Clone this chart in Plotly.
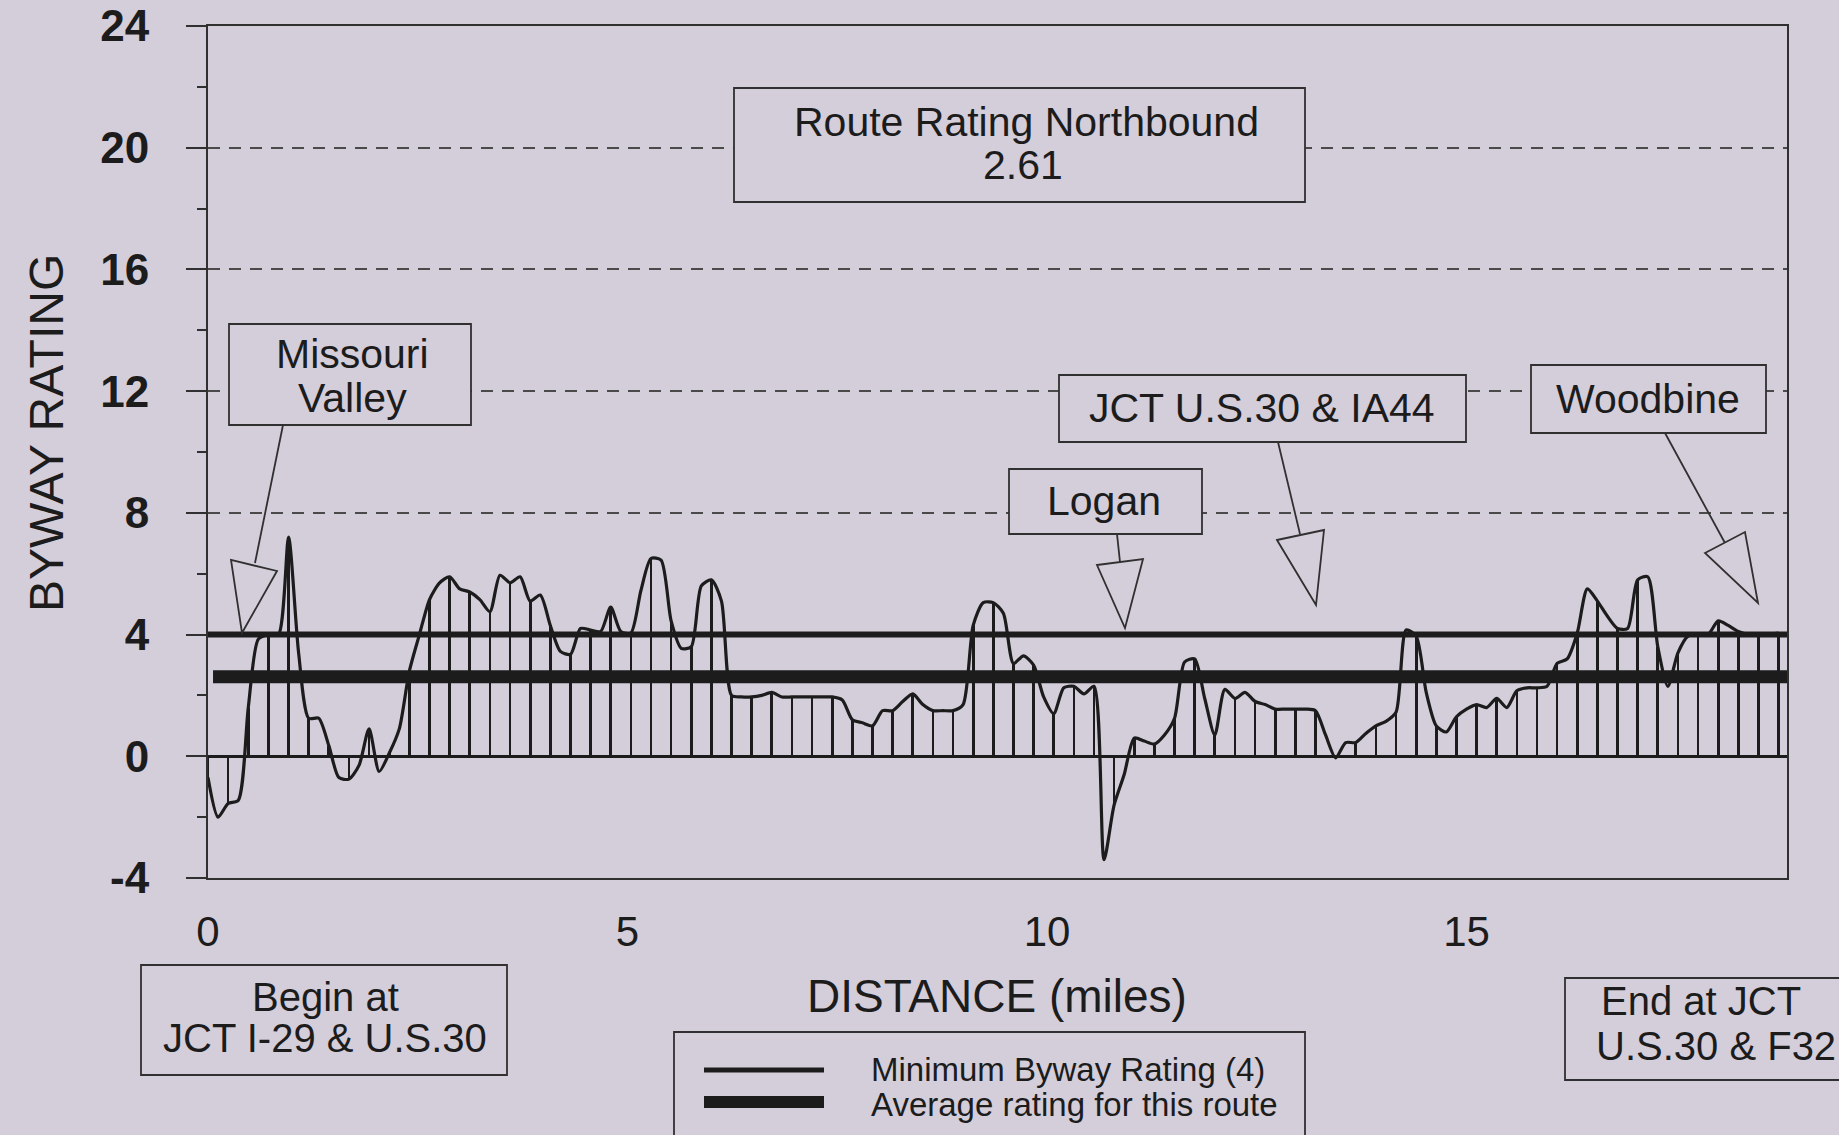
import plotly.graph_objects as go

# ---------------------------------------------------------------------------
# Byway rating along the northbound route, sampled every 0.12 mile
# ---------------------------------------------------------------------------
STEP_MI = 0.12
rating = [
    -0.7, -2.0, -1.55, -1.45, 1.6, 3.85, 4.0, 4.0, 7.2, 3.4,
    1.25, 1.25, 0.35, -0.7, -0.75, -0.3, 0.9, -0.5, 0.1, 0.9,
    2.8, 4.0, 5.15, 5.7, 5.9, 5.5, 5.4, 5.15, 4.75, 5.95,
    5.7, 5.9, 5.1, 5.3, 4.3, 3.45, 3.35, 4.2, 4.15, 4.1,
    4.9, 4.1, 4.05, 5.45, 6.5, 6.45, 4.45, 3.55, 3.6, 5.6,
    5.8, 5.1, 2.0, 1.95, 1.95, 2.0, 2.1, 1.95, 1.95, 1.95,
    1.95, 1.95, 1.95, 1.85, 1.2, 1.1, 1.0, 1.5, 1.5, 1.8,
    2.05, 1.7, 1.5, 1.5, 1.5, 1.7, 4.3, 5.05, 5.05, 4.7,
    3.05, 3.3, 3.0, 1.95, 1.4, 2.25, 2.3, 2.05, 2.3, -3.4,
    -1.6, -0.6, 0.6, 0.5, 0.4, 0.7, 1.25, 3.1, 3.2, 1.9,
    0.7, 2.2, 1.9, 2.1, 1.8, 1.7, 1.55, 1.55, 1.55, 1.55,
    1.5, 0.7, -0.05, 0.45, 0.45, 0.75, 1.0, 1.15, 1.45, 4.15,
    3.95, 2.1, 1.0, 0.8, 1.3, 1.55, 1.7, 1.6, 1.9, 1.6,
    2.15, 2.25, 2.25, 2.3, 3.05, 3.2, 4.05, 5.5, 5.1, 4.6,
    4.2, 4.2, 5.8, 5.9, 3.6, 2.3, 3.4, 3.95, 4.0, 4.0,
    4.45, 4.3, 4.1, 4.0, 4.0, 4.0, 4.05,
]
distance_mi = [round(i * STEP_MI, 2) for i in range(len(rating))]

# Vertical drop lines are drawn at every other sample (0.24 mile stations)
station_mi = distance_mi[::2]
station_rating = rating[::2]

MIN_BYWAY_RATING = 4
ROUTE_AVERAGE = 2.61

y_ticks = [-4, 0, 4, 8, 12, 16, 20, 24]
y_tick_text = [str(v) for v in y_ticks]
x_ticks = [0, 5, 10, 15]

# ---------------------------------------------------------------------------
# Page geometry
# ---------------------------------------------------------------------------
W, H = 1839, 1135
PLOT_L, PLOT_R, PLOT_T, PLOT_B = 208, 1787, 26, 878
X_MAX = 18.82

BG = "rgb(212,206,218)"
INK = "#1c1c1c"
FRAME = "#303030"
FONT = "Liberation Sans"


def paper(px, py):
    """Convert a page pixel position to paper coordinates of the plot area."""
    return ((px - PLOT_L) / (PLOT_R - PLOT_L), (PLOT_B - py) / (PLOT_B - PLOT_T))


fig = go.Figure()

# drop lines from zero to the rating at each station
fig.add_trace(go.Bar(
    x=station_mi, y=station_rating, width=0.032,
    marker=dict(color=INK, line=dict(width=0)),
    showlegend=False, hoverinfo="skip",
))

# rating profile
fig.add_trace(go.Scatter(
    x=distance_mi, y=rating, mode="lines",
    line=dict(color=INK, width=3.2, shape="spline", smoothing=0.7),
    showlegend=False,
))

# minimum byway rating and route average
fig.add_trace(go.Scatter(
    x=[0, X_MAX], y=[MIN_BYWAY_RATING] * 2, mode="lines",
    line=dict(color=INK, width=6), name=f"Minimum Byway Rating ({MIN_BYWAY_RATING})",
    showlegend=False,
))
fig.add_trace(go.Scatter(
    x=[0.06, X_MAX], y=[ROUTE_AVERAGE] * 2, mode="lines",
    line=dict(color=INK, width=13), name="Average rating for this route",
    showlegend=False,
))

shapes = []
annotations = []


def box(x0, y0, x1, y1):
    a = paper(x0, y1)
    b = paper(x1, y0)
    shapes.append(dict(
        type="rect", xref="paper", yref="paper",
        x0=a[0], y0=a[1], x1=b[0], y1=b[1],
        fillcolor=BG, line=dict(color=FRAME, width=1.8), layer="above",
    ))


def text(px, py, s, size=41, xanchor="center"):
    x, y = paper(px, py)
    annotations.append(dict(
        x=x, y=y, xref="paper", yref="paper", text=s, showarrow=False,
        xanchor=xanchor, yanchor="middle",
        font=dict(family=FONT, size=size, color=INK),
    ))


def pointer(start, end, tri):
    (sx, sy), (ex, ey) = paper(*start), paper(*end)
    shapes.append(dict(
        type="line", xref="paper", yref="paper", x0=sx, y0=sy, x1=ex, y1=ey,
        line=dict(color=FRAME, width=1.8), layer="above",
    ))
    pts = [paper(*p) for p in tri]
    path = "M " + " L ".join(f"{x:.5f},{y:.5f}" for x, y in pts) + " Z"
    shapes.append(dict(
        type="path", xref="paper", yref="paper", path=path,
        fillcolor=BG, line=dict(color=FRAME, width=1.8), layer="above",
    ))


# route title
box(734, 88, 1305, 202)
text(1026, 122, "Route Rating Northbound")
text(1023, 165, f"{ROUTE_AVERAGE:.2f}")

# place callouts
box(229, 324, 471, 425)
text(352, 354, "Missouri")
text(352, 398, "Valley")
pointer((283, 425), (255, 563), [(231, 560), (277, 571), (242, 633)])

box(1059, 375, 1466, 442)
text(1262, 408, "JCT U.S.30 &amp; IA44")
pointer((1278, 442), (1300, 534), [(1277, 540), (1324, 530), (1316, 605)])

box(1009, 469, 1202, 534)
text(1104, 501, "Logan")
pointer((1117, 534), (1120, 562), [(1097, 565), (1143, 559), (1125, 628)])

box(1531, 365, 1766, 433)
text(1648, 399, "Woodbine")
pointer((1665, 433), (1725, 543), [(1705, 553), (1745, 532), (1758, 603)])

# route ends
box(141, 965, 507, 1075)
text(325, 997, "Begin at", size=40)
text(325, 1038, "JCT I-29 &amp; U.S.30", size=40)

box(1565, 978, 1860, 1080)
text(1701, 1001, "End at JCT", size=40)
text(1716, 1046, "U.S.30 &amp; F32", size=40)

# axis titles
text(997, 996, "DISTANCE (miles)", size=46)
tx, ty = paper(47, 433)
annotations.append(dict(
    x=tx, y=ty, xref="paper", yref="paper", text="BYWAY RATING", showarrow=False,
    textangle=-90, xanchor="center", yanchor="middle",
    font=dict(family=FONT, size=48, color=INK),
))

# key
box(674, 1032, 1305, 1160)
for (y, w) in [(1070, 5), (1102, 12)]:
    a, b = paper(704, y), paper(824, y)
    shapes.append(dict(
        type="line", xref="paper", yref="paper", x0=a[0], y0=a[1], x1=b[0], y1=b[1],
        line=dict(color=INK, width=w), layer="above",
    ))
text(869, 1069, f"Minimum Byway Rating ({MIN_BYWAY_RATING})", size=33, xanchor="left")
text(869, 1104, "Average rating for this route", size=33, xanchor="left")

fig.update_layout(
    width=W, height=H,
    margin=dict(l=PLOT_L, r=W - PLOT_R, t=PLOT_T, b=H - PLOT_B, autoexpand=False),
    paper_bgcolor=BG, plot_bgcolor=BG,
    shapes=shapes, annotations=annotations,
    showlegend=False, bargap=0,
    xaxis=dict(
        range=[0, X_MAX], tickvals=x_ticks, ticks="", showgrid=False, zeroline=False,
        showline=True, linecolor=FRAME, linewidth=2, mirror=True,
        tickfont=dict(family=FONT, size=42, color=INK),
        ticklabelstandoff=16,
    ),
    yaxis=dict(
        range=[-4, 24], tickvals=y_ticks, ticktext=y_tick_text,
        ticks="outside", ticklen=20, tickwidth=2,
        tickcolor=FRAME, showline=True, linecolor=FRAME, linewidth=2, mirror=True,
        showgrid=True, gridcolor="#4a4a4a", gridwidth=1.5, griddash="12px,9px",
        zeroline=True, zerolinecolor=INK, zerolinewidth=2.5,
        tickfont=dict(family=FONT, size=44, color=INK, weight="bold"),
        ticklabelstandoff=28,
        minor=dict(dtick=2, ticks="outside", ticklen=9, tickwidth=2, tickcolor=FRAME,
                   showgrid=False),
    ),
)

fig.write_html("out.html")
